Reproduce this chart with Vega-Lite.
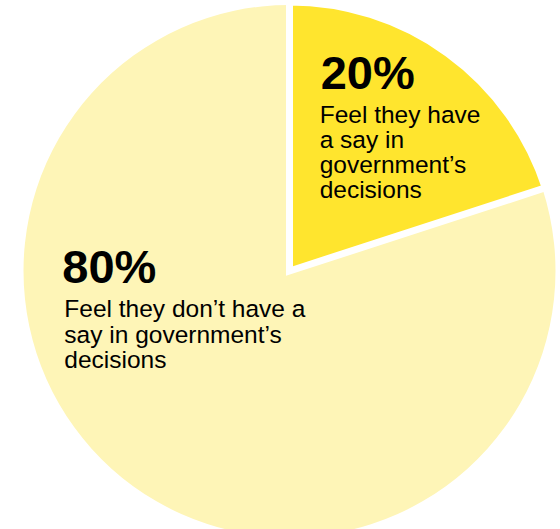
{
  "$schema": "https://vega.github.io/schema/vega-lite/v6.json",
  "width": 541,
  "height": 516,
  "autosize": "none",
  "padding": {"left": 19, "top": 13, "right": 0, "bottom": 0},
  "background": "white",
  "view": {"stroke": null},
  "data": {
    "values": [
      {"key": "have", "pct": 20, "num": "20%", "desc": "Feel they have\na say in\ngovernment’s\ndecisions"},
      {"key": "nothave", "pct": 80, "num": "80%", "desc": "Feel they don’t have a\nsay in government’s\ndecisions"}
    ]
  },
  "encoding": {
    "theta": {"field": "pct", "type": "quantitative", "stack": true},
    "order": {"field": "pct", "type": "quantitative", "sort": "ascending"},
    "color": {
      "field": "key",
      "type": "nominal",
      "scale": {"domain": ["have", "nothave"], "range": ["#FFE52E", "#FEF5B7"]},
      "legend": null
    }
  },
  "layer": [
    {"mark": {"type": "arc", "radius": 266}},
    {
      "mark": {"type": "arc", "radius": 269, "stroke": "white", "strokeWidth": 7, "strokeJoin": "miter"},
      "encoding": {
        "opacity": {"condition": {"test": "datum.key === 'have'", "value": 1}, "value": 0}
      }
    },
    {
      "mark": {"type": "text", "radius": 150, "align": "left", "baseline": "alphabetic", "font": "Liberation Sans", "fontWeight": "bold", "fontSize": 47, "dx": -57, "dy": -61},
      "encoding": {
        "text": {"condition": {"test": "datum.key === 'have'", "field": "num"}, "value": ""},
        "color": {"value": "black"}
      }
    },
    {
      "mark": {"type": "text", "radius": 150, "align": "left", "baseline": "alphabetic", "font": "Liberation Sans", "fontSize": 24.5, "lineHeight": 25, "lineBreak": "\n", "dx": -58, "dy": -27},
      "encoding": {
        "text": {"condition": {"test": "datum.key === 'have'", "field": "desc"}, "value": ""},
        "color": {"value": "black"}
      }
    },
    {
      "mark": {"type": "text", "radius": 150, "align": "left", "baseline": "alphabetic", "font": "Liberation Sans", "fontWeight": "bold", "fontSize": 47, "dx": -139, "dy": -109},
      "encoding": {
        "text": {"condition": {"test": "datum.key === 'nothave'", "field": "num"}, "value": ""},
        "color": {"value": "black"}
      }
    },
    {
      "mark": {"type": "text", "radius": 150, "align": "left", "baseline": "alphabetic", "font": "Liberation Sans", "fontSize": 24.5, "lineHeight": 25.5, "lineBreak": "\n", "dx": -137, "dy": -75},
      "encoding": {
        "text": {"condition": {"test": "datum.key === 'nothave'", "field": "desc"}, "value": ""},
        "color": {"value": "black"}
      }
    }
  ]
}
